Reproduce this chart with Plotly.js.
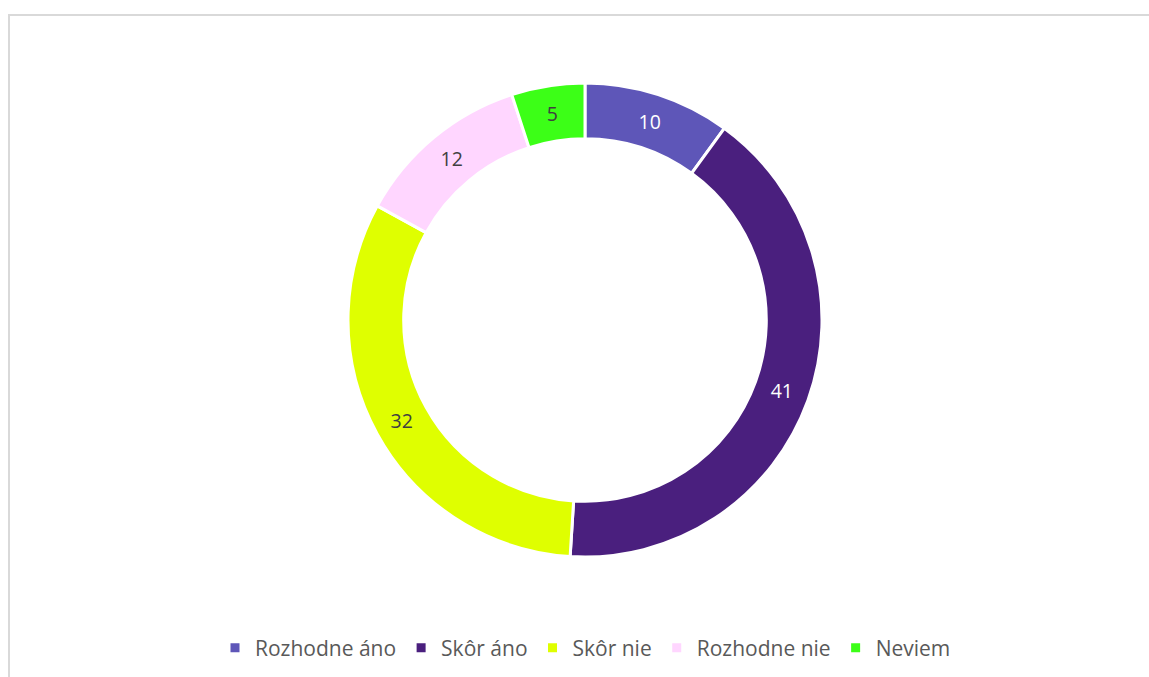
<!DOCTYPE html>
<html>
<head>
<meta charset="utf-8">
<script src="https://cdn.plot.ly/plotly-3.0.1.min.js"></script>
<style>html,body{margin:0;padding:0;background:#fff;}#chart{width:1149px;height:677px;}</style>
</head>
<body>
<div id="chart"></div>
<script>
const categories = ["Rozhodne áno", "Skôr áno", "Skôr nie", "Rozhodne nie", "Neviem"];
const values = [10, 41, 32, 12, 5];
const colors = ["#5E56B8", "#4A1F7E", "#DFFF00", "#FFD6FF", "#3CFF17"];
const textColors = ["#FFFFFF", "#FFFFFF", "#404040", "#404040", "#404040"];

const W = 1149, H = 677;
const cx = 585, cy = 320, R = 237;

const trace = {
  type: "pie",
  labels: categories,
  values: values,
  sort: false,
  direction: "clockwise",
  rotation: 0,
  hole: 0.765,
  marker: {colors: colors, line: {color: "#FFFFFF", width: 3}},
  textinfo: "value",
  textposition: "inside",
  insidetextorientation: "horizontal",
  textfont: {family: "Open Sans, sans-serif", size: 19.5, color: textColors},
  domain: {x: [(cx - R) / W, (cx + R) / W], y: [1 - (cy + R) / H, 1 - (cy - R) / H]},
  hoverinfo: "label+value"
};

const layout = {
  width: W, height: H,
  margin: {l: 0, r: 0, t: 0, b: 0},
  paper_bgcolor: "#FFFFFF",
  showlegend: true,
  legend: {
    orientation: "h", x: 0.5 + 11 / W, xanchor: "center", y: 1 - 648 / H, yanchor: "middle",
    font: {family: "Open Sans, sans-serif", size: 21, color: "#595959"},
    traceorder: "normal", itemclick: false, itemwidth: 30
  },
  shapes: [{
    type: "rect", xref: "paper", yref: "paper",
    x0: 9 / W, x1: 1.05, y0: -0.05, y1: 1 - 15 / H,
    line: {color: "#D9D9D9", width: 2}, fillcolor: "rgba(0,0,0,0)"
  }]
};

Plotly.newPlot("chart", [trace], layout, {displayModeBar: false, staticPlot: true});
</script>
</body>
</html>
